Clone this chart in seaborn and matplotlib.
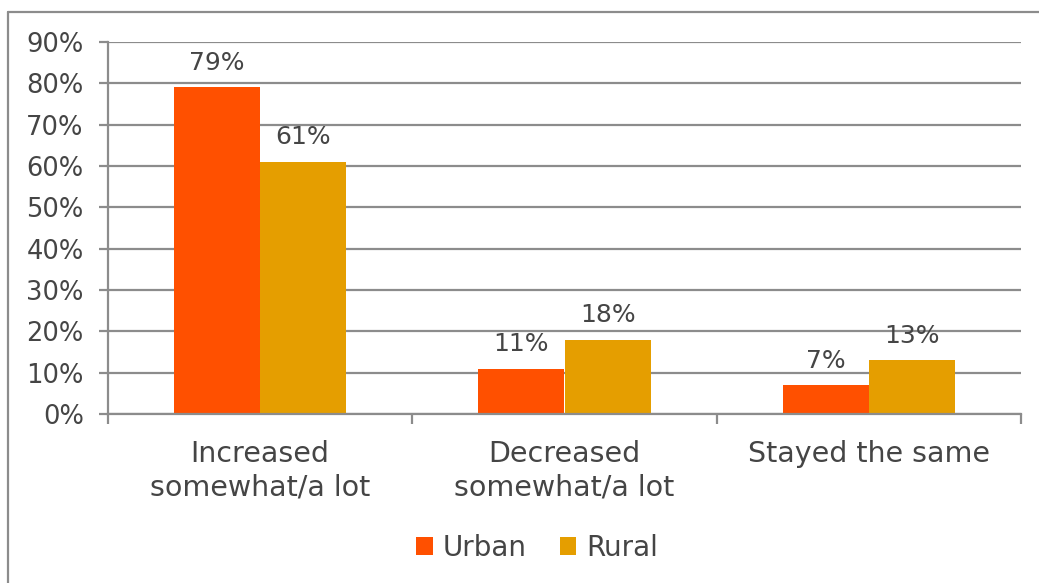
import matplotlib
matplotlib.use("Agg")
import matplotlib.pyplot as plt
from matplotlib.lines import Line2D
from matplotlib.ticker import FixedLocator, PercentFormatter
import seaborn as sns
import pandas as pd

# Survey results: share of respondents per answer, by area
categories = ["Increased\nsomewhat/a lot", "Decreased\nsomewhat/a lot", "Stayed the same"]
urban = [79, 11, 7]
rural = [61, 18, 13]
groups = ["Urban", "Rural"]
colors = {"Urban": "#FF5000", "Rural": "#E59E00"}
y_ticks = [0, 10, 20, 30, 40, 50, 60, 70, 80, 90]

df = pd.DataFrame({
    "answer": categories * 2,
    "area": ["Urban"] * len(categories) + ["Rural"] * len(categories),
    "pct": urban + rural,
})

sns.set_theme(style="white")
plt.rcParams["font.family"] = ["DejaVu Sans"]

text_color = "#454545"
line_color = "#8C8C8C"

W, H = 1039, 583
fig = plt.figure(figsize=(W / 100, H / 100), dpi=100)
ax = fig.add_axes([108 / W, 169 / H, (1021 - 108) / W, (414 - 42) / H])

sns.barplot(data=df, x="answer", y="pct", hue="area", hue_order=groups,
            palette=colors, width=0.566, saturation=1, ax=ax, legend=True,
            edgecolor="none", linewidth=0)

ax.set_xlim(-0.5, 2.5)
ax.set_ylim(0, 90)
ax.yaxis.set_major_locator(FixedLocator(y_ticks))
ax.yaxis.set_major_formatter(PercentFormatter(decimals=0))
ax.set_xlabel("")
ax.set_ylabel("")

# grid and axis lines
ax.grid(axis="y", color=line_color, linewidth=1.6)
ax.set_axisbelow(True)
for side in ["top", "right"]:
    ax.spines[side].set_visible(False)
for side in ["left", "bottom"]:
    ax.spines[side].set_color(line_color)
    ax.spines[side].set_linewidth(1.6)

ax.tick_params(axis="y", which="major", direction="out", length=6.5, width=1.6,
               color=line_color, left=True, labelsize=18.5, labelcolor=text_color, pad=11)
ax.tick_params(axis="x", which="major", length=0, labelsize=20.5,
               labelcolor=text_color, pad=19)
ax.xaxis.set_minor_locator(FixedLocator([-0.5, 0.5, 1.5, 2.5]))
ax.tick_params(axis="x", which="minor", direction="out", length=7.5, width=1.6,
               color=line_color, bottom=True)
for lbl in ax.get_xticklabels():
    lbl.set_linespacing(1.25)

# value labels above bars
for cont in ax.containers:
    ax.bar_label(cont, labels=[f"{v:.0f}%" for v in cont.datavalues],
                 padding=9, fontsize=18, color=text_color)

# legend below the plot
handles, labels = ax.get_legend_handles_labels()
ax.get_legend().remove()
fig.legend(handles, labels, loc="center", bbox_to_anchor=(537 / W, 1 - 548 / H),
           ncol=2, frameon=False, fontsize=20, labelcolor=text_color,
           handlelength=0.6, handleheight=0.6, handletextpad=0.35,
           columnspacing=1.2)

# outer frame (top and left edges)
fig.add_artist(Line2D([8 / W, 1.0], [1 - 12 / H, 1 - 12 / H], transform=fig.transFigure,
                      color=line_color, linewidth=1.6))
fig.add_artist(Line2D([8 / W, 8 / W], [0.0, 1 - 12 / H], transform=fig.transFigure,
                      color=line_color, linewidth=1.6))

fig.savefig("out.png", dpi=100, facecolor="white")
